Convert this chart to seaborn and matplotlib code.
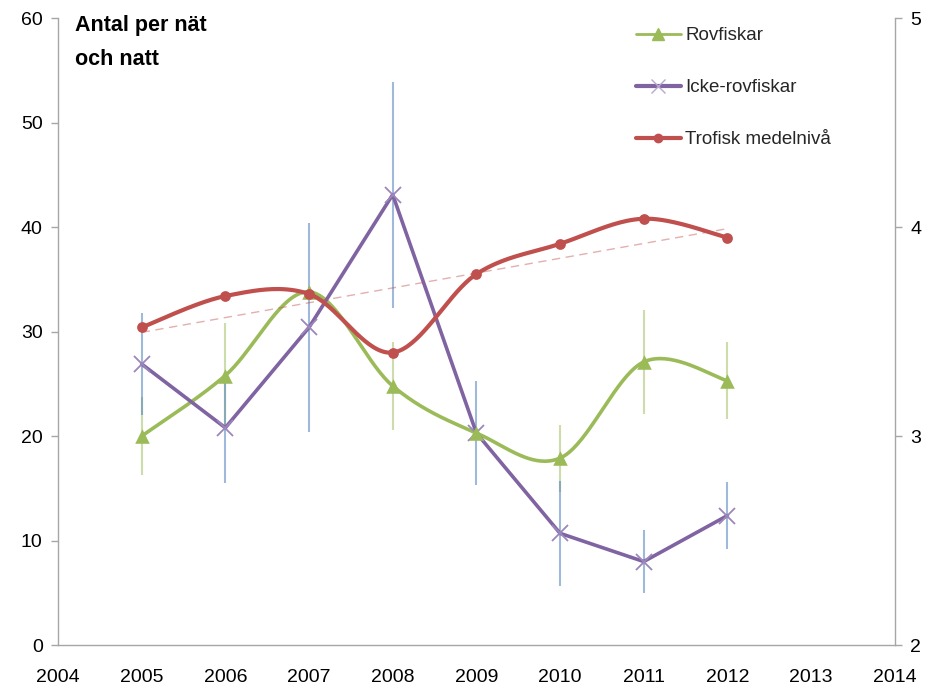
import numpy as np
import pandas as pd
import matplotlib
matplotlib.use("Agg")
import matplotlib.pyplot as plt
from matplotlib.lines import Line2D
import seaborn as sns

years = [2005, 2006, 2007, 2008, 2009, 2010, 2011, 2012]
rovfiskar = [20.0, 25.8, 33.8, 24.8, 20.3, 17.9, 27.1, 25.3]
rovfiskar_err = [3.7, 5.0, 0.5, 4.2, 0.5, 3.2, 5.0, 3.7]
icke_rovfiskar = [26.9, 20.8, 30.4, 43.1, 20.3, 10.7, 8.0, 12.4]
icke_err = [4.9, 5.3, 10.0, 10.8, 5.0, 5.0, 3.0, 3.2]
trofisk = [3.52, 3.67, 3.68, 3.40, 3.775, 3.92, 4.04, 3.95]

GREEN = "#9BBB59"
PURPLE = "#8064A2"
RED = "#C0504D"
BLUE = "#4F81BD"
AXIS = "#A6A6A6"


def smooth(x, y, n=40):
    """Piecewise cubic Bezier through the points (Catmull-Rom style)."""
    x = np.asarray(x, float)
    y = np.asarray(y, float)
    px = np.concatenate([[x[0]], x, [x[-1]]])
    py = np.concatenate([[y[0]], y, [y[-1]]])
    xs, ys = [], []
    t = np.linspace(0, 1, n)
    for i in range(1, len(px) - 2):
        p0 = np.array([px[i], py[i]])
        p3 = np.array([px[i + 1], py[i + 1]])
        p1 = p0 + (p3 - np.array([px[i - 1], py[i - 1]])) / 6
        p2 = p3 - (np.array([px[i + 2], py[i + 2]]) - p0) / 6
        b = ((1 - t) ** 3)[:, None] * p0 + (3 * (1 - t) ** 2 * t)[:, None] * p1 \
            + (3 * (1 - t) * t ** 2)[:, None] * p2 + (t ** 3)[:, None] * p3
        xs.append(b[:, 0])
        ys.append(b[:, 1])
    return np.concatenate(xs), np.concatenate(ys)


sns.set_theme(style="white")
plt.rcParams["font.family"] = ["Liberation Sans", "DejaVu Sans"]

fig = plt.figure(figsize=(9.35, 6.93), dpi=100)
ax = fig.add_axes([0.062, 0.069, 0.895, 0.905])
ax2 = ax.twinx()

df = pd.DataFrame({"year": years, "rov": rovfiskar, "rov_err": rovfiskar_err,
                   "icke": icke_rovfiskar, "icke_err": icke_err, "trofisk": trofisk})

# error bars
ax.vlines(df["year"], df["rov"] - df["rov_err"], df["rov"] + df["rov_err"],
          color=GREEN, alpha=0.5, lw=1.5, zorder=1)
ax.vlines(df["year"], df["icke"] - df["icke_err"], df["icke"] + df["icke_err"],
          color=BLUE, alpha=0.55, lw=1.5, zorder=1.5)

# Rovfiskar: smoothed line with triangles
sx, sy = smooth(df["year"], df["rov"])
sns.lineplot(x=sx, y=sy, ax=ax, color=GREEN, lw=2.6, sort=False, zorder=3)
sns.scatterplot(data=df, x="year", y="rov", ax=ax, marker="^", s=110,
                color=GREEN, edgecolor=GREEN, linewidth=0, zorder=4)

# Icke-rovfiskar: straight segments with crosses
sns.lineplot(data=df, x="year", y="icke", ax=ax, color=PURPLE, lw=2.6,
             marker="x", markersize=11, markeredgewidth=1.3,
             markeredgecolor="#9C86BC", zorder=3)

# Trofisk medelnivå on secondary axis, with linear trend
tx, ty = smooth(df["year"], df["trofisk"])
sns.lineplot(x=tx, y=ty, ax=ax2, color=RED, lw=3.0, sort=False, zorder=3)
sns.scatterplot(data=df, x="year", y="trofisk", ax=ax2, marker="o", s=60,
                color=RED, edgecolor=RED, linewidth=0, zorder=4)
coef = np.polyfit(df["year"], df["trofisk"], 1)
trend_x = np.array([years[0], years[-1]])
ax2.plot(trend_x, np.polyval(coef, trend_x), color=RED, alpha=0.45, lw=1.0,
         ls=(0, (6, 4)), zorder=2)

ax.set_xlim(2004, 2014)
ax.set_ylim(0, 60)
ax2.set_ylim(2, 5)
ax.set_xticks(range(2004, 2015))
ax.set_yticks(range(0, 61, 10))
ax2.set_yticks([2, 3, 4, 5])
ax.set_xlabel("")
ax.set_ylabel("")
ax2.set_ylabel("")

for a in (ax, ax2):
    a.spines["top"].set_visible(False)
    for s in ("left", "right", "bottom"):
        a.spines[s].set_color(AXIS)
        a.spines[s].set_linewidth(1.0)
    a.tick_params(colors=AXIS, labelcolor="black", labelsize=14, length=5,
                  width=1.0, direction="out")
ax.spines["right"].set_visible(False)
ax2.spines["left"].set_visible(False)
ax2.spines["bottom"].set_visible(False)
ax.tick_params(axis="x", pad=12)
ax.tick_params(axis="y", pad=6)
ax2.tick_params(axis="y", pad=6)

ax.text(0.02, 1.005, "Antal per nät\noch natt", transform=ax.transAxes,
        ha="left", va="top", fontsize=15.5, fontweight="bold",
        color="black", linespacing=1.8)

handles = [
    Line2D([], [], color=GREEN, lw=2, marker="^", markersize=8),
    Line2D([], [], color=PURPLE, lw=3, marker="x", markersize=10,
           markeredgecolor="#B7A6D0", markeredgewidth=1),
    Line2D([], [], color=RED, lw=3, marker="o", markersize=6),
]
ax.legend(handles, ["Rovfiskar", "Icke-rovfiskar", "Trofisk medelnivå"],
          loc="upper left", bbox_to_anchor=(0.67, 1.012), frameon=False,
          labelspacing=1.85, handlelength=2.4, handletextpad=0.25,
          prop={"size": 13.5})

fig.savefig("out.png", dpi=100)
